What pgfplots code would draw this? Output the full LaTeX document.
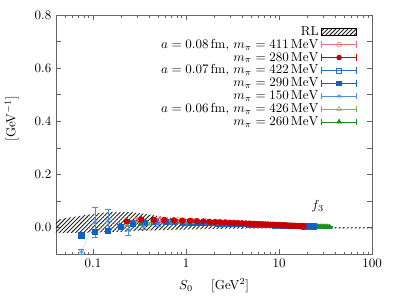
\documentclass[border=0pt]{standalone}
\usepackage{pgfplots}
\pgfplotsset{compat=1.18}
\usetikzlibrary{patterns.meta}
\definecolor{cRa}{RGB}{232,112,122}
\definecolor{cRb}{RGB}{200,0,0}
\definecolor{cBa}{RGB}{40,110,200}
\definecolor{cBb}{RGB}{20,95,195}
\definecolor{cBs}{RGB}{80,140,220}
\definecolor{cGa}{RGB}{110,185,90}
\definecolor{cGb}{RGB}{30,140,30}
\definecolor{axgray}{RGB}{100,100,100}
\pgfplotsset{
 ebleg/.style={legend image code/.code={
   \draw[##1,solid,mark=none] (0cm,0cm) -- (0.95cm,0cm);
   \draw[##1,solid,mark=none] (0cm,-0.09cm) -- (0cm,0.09cm);
   \draw[##1,solid,mark=none] (0.95cm,-0.09cm) -- (0.95cm,0.09cm);
   \draw[##1,solid,only marks] plot coordinates {(0.475cm,0cm)};
 }},
 rlleg/.style={legend image code/.code={
   \draw[##1] (0cm,-0.085cm) rectangle (0.95cm,0.085cm);
 }},
 eb/.style={forget plot, color=#1,
   error bars/.cd, y dir=both, y explicit,
   error bar style={color=#1, solid, line width=0.5pt},
   error mark options={rotate=90, mark size=2.4pt, color=#1, solid}},
}
\begin{document}
\begin{tikzpicture}
\begin{axis}[
 scale only axis, width=243pt, height=184pt,
 xmode=log, xmin=0.04, xmax=100, ymin=-0.1, ymax=0.8,
 xtick={0.1,1,10,100}, xticklabels={$0.1$,$1$,$10$,$100$},
 minor xtick={0.04,0.05,0.06,0.07,0.08,0.09,0.2,0.3,0.4,0.5,0.6,0.7,0.8,0.9,2,3,4,5,6,7,8,9,20,30,40,50,60,70,80,90},
 ytick={-0.1,0,0.1,0.2,0.3,0.4,0.5,0.6,0.7,0.8},
 yticklabels={,$0.0$,,$0.2$,,$0.4$,,$0.6$,,$0.8$},
 major tick length=4pt, minor tick length=2.2pt,
 axis line style={axgray, line width=0.6pt},
 every tick/.style={axgray, line width=0.5pt},
 xlabel={$S_0$\hspace{14pt}[GeV$^2$]},
 ylabel={[GeV$^{-1}$]},
 ylabel style={at={(axis description cs:-0.14,0.567)}, anchor=center},
 xlabel style={yshift=-2pt},
 legend style={draw=none, fill=none, at={(rel axis cs:0.965,0.975)}, anchor=north east, row sep=-2.5pt},
 legend cell align=right, legend plot pos=right,
]
\addlegendimage{rlleg, draw=black, pattern={Lines[angle=45,distance=2.2pt,line width=0.7pt]}, pattern color=black!85}
\addlegendentry{RL}
\addlegendimage{ebleg, color=cRa, mark=o, mark size=1.9pt}
\addlegendentry{$a=0.08\,\mathrm{fm},\, m_\pi=411\,\mathrm{MeV}$}
\addlegendimage{ebleg, color=cRb, mark=*, mark size=1.9pt}
\addlegendentry{$m_\pi=280\,\mathrm{MeV}$}
\addlegendimage{ebleg, color=cBa, mark=square, mark size=1.8pt}
\addlegendentry{$a=0.07\,\mathrm{fm},\, m_\pi=422\,\mathrm{MeV}$}
\addlegendimage{ebleg, color=cBb, mark=square*, mark size=1.8pt}
\addlegendentry{$m_\pi=290\,\mathrm{MeV}$}
\addlegendimage{ebleg, color=cBs, mark=asterisk, mark size=2.1pt}
\addlegendentry{$m_\pi=150\,\mathrm{MeV}$}
\addlegendimage{ebleg, color=cGa, mark=triangle, mark size=2.1pt}
\addlegendentry{$a=0.06\,\mathrm{fm},\, m_\pi=426\,\mathrm{MeV}$}
\addlegendimage{ebleg, color=cGb, mark=triangle*, mark size=2.1pt}
\addlegendentry{$m_\pi=260\,\mathrm{MeV}$}

% RL band
\addplot[forget plot, draw=none, pattern={Lines[angle=45,distance=2.2pt,line width=0.7pt]}, pattern color=black!85]
 coordinates {(0.04,0.030) (0.06,0.040) (0.08,0.047) (0.1,0.052) (0.13,0.057) (0.17,0.060) (0.22,0.060) (0.3,0.056) (0.4,0.050) (0.6,0.040) (0.8,0.032) (1.0,0.026) (1.3,0.018) (1.7,0.010) (2.2,0.005) (3,0.003) (5,0.0025) (100,0.0025)
 (100,-0.0025) (5,-0.0025) (3,-0.003) (2.2,-0.004) (1.7,-0.005) (1.2,-0.006) (0.8,-0.007) (0.5,-0.009) (0.3,-0.012) (0.2,-0.015) (0.12,-0.017) (0.08,-0.019) (0.04,-0.020)} -- cycle;

% a=0.06 fm, 426 MeV
\addplot[only marks, mark=triangle, mark size=2.3pt, eb=cGa] table[x index=0, y index=1, y error index=2] {
0.25 0.012 0.005
0.42 0.016 0.004
0.64 0.018 0.003
0.90 0.019 0.003
1.21 0.018 0.002
1.56 0.017 0.002
1.96 0.016 0.002
2.40 0.015 0.002
2.89 0.014 0.002
3.42 0.014 0.002
4.0 0.013 0.002
4.62 0.012 0.002
5.29 0.012 0.002
6.0 0.011 0.002
6.76 0.010 0.002
7.56 0.010 0.002
8.41 0.009 0.002
9.30 0.009 0.002
10.24 0.008 0.002
11.22 0.008 0.002
12.25 0.007 0.002
13.3 0.007 0.002
14.4 0.007 0.002
15.6 0.006 0.002
16.8 0.006 0.002
18.1 0.006 0.002
19.4 0.005 0.002
20.8 0.005 0.002
22.2 0.005 0.002
};

% 260 MeV
\addplot[only marks, mark=triangle*, mark size=2.3pt, eb=cGb] table[x index=0, y index=1, y error index=2] {
0.194 0.008 0.006
0.325 0.015 0.005
0.490 0.018 0.004
0.689 0.019 0.003
0.922 0.019 0.003
1.188 0.0182 0.002
1.488 0.0172 0.002
1.823 0.0163 0.002
2.190 0.0154 0.002
2.592 0.0147 0.002
3.028 0.0139 0.002
3.497 0.0133 0.002
4.000 0.0127 0.002
4.537 0.0121 0.002
5.108 0.0116 0.002
5.712 0.0111 0.002
6.350 0.0106 0.002
7.023 0.0101 0.002
7.728 0.0097 0.002
8.468 0.0093 0.002
9.242 0.0089 0.002
10.049 0.0085 0.002
10.89 0.0081 0.002
11.76 0.0078 0.002
12.67 0.0074 0.002
13.62 0.0071 0.002
14.59 0.0068 0.002
15.60 0.0065 0.002
16.65 0.0062 0.002
17.72 0.0059 0.002
18.84 0.0056 0.002
19.98 0.0053 0.002
21.16 0.0051 0.002
22.37 0.0048 0.002
23.62 0.0046 0.002
24.90 0.0043 0.002
26.21 0.0041 0.002
27.56 0.0039 0.002
28.94 0.0037 0.002
30.36 0.0034 0.002
31.81 0.0032 0.002
33.29 0.0030 0.002
34.81 0.0028 0.002
};

% a=0.07 fm, 422 MeV
\addplot[only marks, mark=square, mark size=2pt, eb=cBa] table[x index=0, y index=1, y error index=2] {
0.27 0.018 0.006
0.45 0.022 0.004
0.68 0.022 0.003
0.96 0.021 0.003
1.30 0.020 0.002
1.70 0.019 0.002
2.2 0.017 0.002
2.7 0.016 0.002
3.3 0.015 0.002
4.0 0.014 0.002
4.8 0.013 0.002
5.7 0.012 0.002
6.7 0.011 0.002
7.8 0.010 0.002
9.0 0.009 0.002
10.5 0.009 0.002
12 0.008 0.002
14 0.007 0.002
16 0.007 0.002
18.5 0.006 0.002
21 0.006 0.002
};

% 290 MeV
\addplot[only marks, mark=square*, mark size=2pt, eb=cBb] table[x index=0, y index=1, y error index=2] {
0.075 -0.028 0.012
0.105 -0.016 0.010
0.145 -0.010 0.008
0.20 0.005 0.006
0.27 0.015 0.005
0.36 0.020 0.004
0.47 0.022 0.004
0.60 0.022 0.003
0.75 0.022 0.003
0.92 0.021 0.003
1.12 0.0205 0.002
1.35 0.0196 0.002
1.6 0.0188 0.002
1.9 0.0179 0.002
2.2 0.0172 0.002
2.55 0.0165 0.002
2.95 0.0158 0.002
3.4 0.0152 0.002
3.9 0.0145 0.002
4.45 0.0139 0.002
5.05 0.0133 0.002
5.7 0.0127 0.002
6.4 0.0121 0.002
7.2 0.0116 0.002
8.1 0.0110 0.002
9.0 0.0105 0.002
10.0 0.0100 0.002
11.1 0.0095 0.002
12.3 0.0090 0.002
13.6 0.0085 0.002
15.0 0.0081 0.002
16.5 0.0076 0.002
18.1 0.0072 0.002
19.8 0.0067 0.002
21.6 0.0063 0.002
23.5 0.0059 0.002
};

% 150 MeV
\addplot[mark=asterisk, mark size=2.3pt, densely dotted, mark options={solid}, eb=cBs] table[x index=0, y index=1, y error index=2] {
0.075 -0.090 0.008
0.105 0.022 0.057
0.145 0.027 0.043
0.24 -0.009 0.018
0.35 0.005 0.012
0.50 0.015 0.008
0.70 0.018 0.006
1.00 0.019 0.005
};

% a=0.08 fm, 411 MeV
\addplot[only marks, mark=o, mark size=2.2pt, eb=cRa] table[x index=0, y index=1, y error index=2] {
0.30 0.030 0.006
0.53 0.030 0.004
0.83 0.028 0.003
1.20 0.026 0.003
1.63 0.024 0.002
2.13 0.022 0.002
2.70 0.020 0.002
3.33 0.019 0.002
4.03 0.017 0.002
4.80 0.016 0.002
5.63 0.015 0.002
6.53 0.014 0.002
7.50 0.013 0.002
8.53 0.012 0.002
9.63 0.011 0.002
10.8 0.010 0.002
12.0 0.009 0.002
};

% 280 MeV
\addplot[only marks, mark=*, mark size=2.2pt, eb=cRb] table[x index=0, y index=1, y error index=2] {
0.230 0.024 0.006
0.331 0.031 0.005
0.449 0.030 0.004
0.585 0.029 0.004
0.740 0.028 0.003
0.912 0.027 0.003
1.103 0.0263 0.003
1.311 0.0250 0.002
1.538 0.0238 0.002
1.782 0.0227 0.002
2.045 0.0217 0.002
2.326 0.0208 0.002
2.624 0.0199 0.002
2.941 0.0190 0.002
3.276 0.0182 0.002
3.629 0.0175 0.002
4.0 0.0168 0.002
4.389 0.0161 0.002
4.796 0.0154 0.002
5.221 0.0148 0.002
5.664 0.0142 0.002
6.126 0.0136 0.002
6.605 0.0131 0.002
7.102 0.0125 0.002
7.618 0.0120 0.002
8.151 0.0115 0.002
8.703 0.0110 0.002
9.272 0.0106 0.002
9.860 0.0101 0.002
10.465 0.0097 0.002
11.089 0.0092 0.002
11.731 0.0088 0.002
12.390 0.0084 0.002
13.068 0.0080 0.002
13.764 0.0076 0.002
14.478 0.0073 0.002
15.21 0.0069 0.002
15.96 0.0065 0.002
16.73 0.0062 0.002
17.51 0.0059 0.002
18.32 0.0055 0.002
};

\node at (axis cs:26,0.08) {$f_3$};
\end{axis}
\pgfresetboundingbox
\path (current axis.south west) ++(-43pt,-32pt) coordinate (bbA);
\path (current axis.north east) ++(16pt,11.5pt) coordinate (bbB);
\useasboundingbox (bbA) rectangle (bbB);
\end{tikzpicture}
\end{document}
